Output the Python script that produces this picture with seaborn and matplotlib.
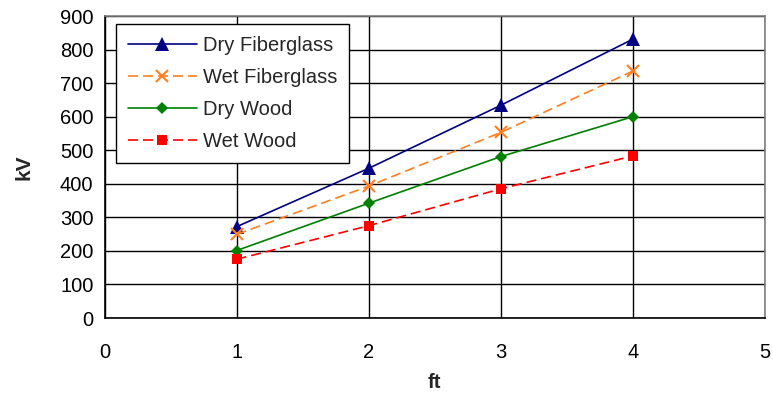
import matplotlib
matplotlib.use("Agg")
import matplotlib.pyplot as plt
import seaborn as sns
import pandas as pd

ft = [1, 2, 3, 4]
dry_fiberglass = [272, 446, 634, 831]
wet_fiberglass = [249, 393, 553, 736]
dry_wood = [201, 342, 481, 600]
wet_wood = [175, 275, 385, 483]

series_names = ["Dry Fiberglass", "Wet Fiberglass", "Dry Wood", "Wet Wood"]
series_values = [dry_fiberglass, wet_fiberglass, dry_wood, wet_wood]

rows = []
for name, vals in zip(series_names, series_values):
    for x, v in zip(ft, vals):
        rows.append({"ft": x, "kV": v, "series": name})
df = pd.DataFrame(rows)

sns.set_theme(style="white")
plt.rcParams["font.family"] = ["Liberation Sans", "DejaVu Sans"]

fig = plt.figure(figsize=(7.73, 3.98), dpi=100)
ax = fig.add_axes([104.5 / 773, 1 - 318 / 398, (765 - 104.5) / 773, (318 - 16) / 398])

colors = {"Dry Fiberglass": "#000080", "Wet Fiberglass": "#FF7F1F",
          "Dry Wood": "#008000", "Wet Wood": "#FF0000"}
markers = {"Dry Fiberglass": "^", "Wet Fiberglass": "x",
           "Dry Wood": "D", "Wet Wood": "s"}
dashes = {"Dry Fiberglass": "", "Wet Fiberglass": (6, 3),
          "Dry Wood": "", "Wet Wood": (6, 3)}
msizes = {"Dry Fiberglass": 9.5, "Wet Fiberglass": 9, "Dry Wood": 6.5, "Wet Wood": 7.5}

for name in series_names:
    sub = df[df["series"] == name]
    sns.lineplot(data=sub, x="ft", y="kV", ax=ax, color=colors[name],
                 marker=markers[name], markersize=msizes[name],
                 markeredgecolor=colors[name], markeredgewidth=1.5 if name == "Wet Fiberglass" else 0,
                 dashes=False, linewidth=1.2, label=name, zorder=3)
    line = ax.get_lines()[-1]
    if dashes[name]:
        line.set_dashes(dashes[name])

ax.set_xlim(0, 5)
ax.set_ylim(0, 900)
ax.set_xticks(range(0, 6))
ax.set_yticks(range(0, 901, 100))
ax.grid(True, color="black", linewidth=1.0)
ax.set_axisbelow(True)

for side in ["top", "right"]:
    ax.spines[side].set_color("#808080")
    ax.spines[side].set_linewidth(1.2)
for side in ["left", "bottom"]:
    ax.spines[side].set_color("black")
    ax.spines[side].set_linewidth(1.2)

ax.tick_params(axis="both", which="both", direction="out", length=5, width=1,
               color="black", labelsize=14.5, labelcolor="black")
ax.tick_params(axis="x", pad=13)
ax.tick_params(axis="y", pad=3)

ax.set_xlabel("ft", fontsize=14.5, fontweight="bold", labelpad=8)
ax.set_ylabel("kV", fontsize=15, fontweight="bold", labelpad=19)

leg = ax.legend(loc="upper left", bbox_to_anchor=(0.0174, 0.974), fontsize=14.5,
                frameon=True, fancybox=False, edgecolor="black", framealpha=1,
                handlelength=3.4, handletextpad=0.3, labelspacing=0.64,
                borderpad=0.6, borderaxespad=0)
leg.get_frame().set_linewidth(1.0)

fig.savefig("out.png", dpi=100)
